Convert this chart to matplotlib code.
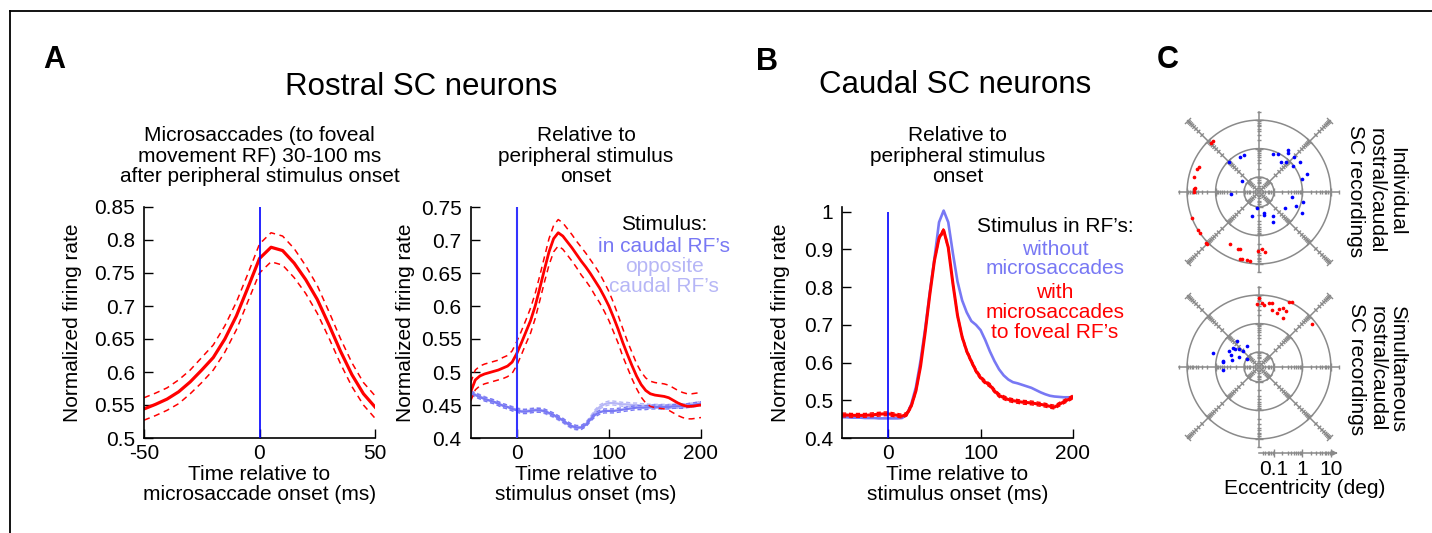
import numpy as np
import matplotlib
matplotlib.use("Agg")
import matplotlib.pyplot as plt
from matplotlib.lines import Line2D
from matplotlib.collections import LineCollection
from matplotlib.ticker import FuncFormatter

plt.rcParams['font.family'] = ['Liberation Sans', 'DejaVu Sans']
plt.rcParams['axes.unicode_minus'] = False

# ---------------- data ----------------
# A (left): aligned on microsaccade onset
t_sacc = np.arange(-50, 51, 5)
sacc_mean = [0.544, 0.551, 0.559, 0.570, 0.585, 0.603, 0.622, 0.650, 0.685, 0.728, 0.772,
             0.789, 0.784, 0.765, 0.740, 0.710, 0.672, 0.632, 0.596, 0.567, 0.547]
sacc_upper = [0.561, 0.568, 0.576, 0.588, 0.603, 0.622, 0.641, 0.670, 0.706, 0.749, 0.794,
              0.811, 0.806, 0.787, 0.761, 0.731, 0.692, 0.651, 0.614, 0.584, 0.564]
sacc_lower = [0.527, 0.534, 0.542, 0.552, 0.567, 0.584, 0.603, 0.630, 0.664, 0.707, 0.750,
              0.767, 0.762, 0.743, 0.719, 0.689, 0.652, 0.613, 0.578, 0.550, 0.530]

# A (right) and B: aligned on stimulus onset
t_stim = np.arange(-50, 201, 5)
rostral_fov = [0.470, 0.488, 0.494, 0.497, 0.499, 0.501, 0.503, 0.506, 0.509, 0.515,
               0.528, 0.544, 0.561, 0.578, 0.600, 0.627, 0.655, 0.682, 0.702, 0.711,
               0.706, 0.697, 0.688, 0.678, 0.668, 0.659, 0.649, 0.638, 0.627, 0.614,
               0.600, 0.583, 0.565, 0.545, 0.527, 0.510, 0.494, 0.481, 0.472, 0.467,
               0.465, 0.464, 0.463, 0.461, 0.457, 0.453, 0.450, 0.448, 0.448, 0.449, 0.450]
rostral_fov_sem = [0.014, 0.015, 0.015, 0.015, 0.015, 0.015, 0.015, 0.016, 0.016, 0.017,
                   0.018, 0.018, 0.018, 0.019, 0.019, 0.019, 0.019, 0.020, 0.020, 0.020,
                   0.020, 0.020, 0.020, 0.020, 0.021, 0.021, 0.021, 0.022, 0.022, 0.022,
                   0.022, 0.022, 0.021, 0.021, 0.020, 0.020, 0.019, 0.019, 0.019, 0.019,
                   0.019, 0.019, 0.019, 0.019, 0.019, 0.019, 0.019, 0.019, 0.019, 0.019, 0.019]
rostral_in_rf = [0.468, 0.465, 0.462, 0.459, 0.457, 0.455, 0.452, 0.449, 0.447, 0.444,
                 0.442, 0.440, 0.440, 0.441, 0.442, 0.442, 0.441, 0.438, 0.435, 0.431,
                 0.427, 0.422, 0.418, 0.416, 0.416, 0.420, 0.428, 0.435, 0.439, 0.441,
                 0.441, 0.441, 0.442, 0.443, 0.444, 0.445, 0.446, 0.446, 0.446, 0.447,
                 0.447, 0.447, 0.447, 0.447, 0.448, 0.448, 0.448, 0.449, 0.450, 0.451, 0.452]
rostral_opp_rf = [0.469, 0.466, 0.463, 0.460, 0.457, 0.455, 0.452, 0.449, 0.447, 0.445,
                  0.443, 0.441, 0.441, 0.442, 0.443, 0.442, 0.440, 0.437, 0.434, 0.430,
                  0.426, 0.421, 0.417, 0.415, 0.416, 0.421, 0.430, 0.440, 0.447, 0.451,
                  0.453, 0.453, 0.452, 0.451, 0.451, 0.450, 0.450, 0.449, 0.449, 0.448,
                  0.448, 0.448, 0.448, 0.448, 0.448, 0.448, 0.449, 0.449, 0.450, 0.451, 0.453]
rostral_rf_sem = 0.003

caudal_no_ms = [0.455, 0.455, 0.454, 0.454, 0.454, 0.453, 0.453, 0.453, 0.452, 0.452,
                0.452, 0.452, 0.452, 0.453, 0.462, 0.490, 0.535, 0.605, 0.690, 0.786,
                0.875, 0.972, 1.003, 0.972, 0.890, 0.815, 0.765, 0.733, 0.710, 0.700,
                0.686, 0.660, 0.630, 0.604, 0.582, 0.566, 0.555, 0.548, 0.545, 0.541,
                0.537, 0.533, 0.527, 0.521, 0.516, 0.512, 0.510, 0.509, 0.508, 0.508, 0.508]
caudal_ms = [0.461, 0.461, 0.460, 0.460, 0.460, 0.460, 0.461, 0.462, 0.463, 0.464,
             0.464, 0.462, 0.460, 0.458, 0.463, 0.485, 0.525, 0.590, 0.680, 0.780,
             0.870, 0.930, 0.951, 0.905, 0.810, 0.725, 0.668, 0.630, 0.603, 0.578,
             0.560, 0.548, 0.540, 0.525, 0.513, 0.507, 0.502, 0.499, 0.497, 0.495,
             0.494, 0.493, 0.491, 0.489, 0.487, 0.484, 0.482, 0.489, 0.496, 0.502, 0.509]
caudal_ms_sem = 0.005

# C: recording sites (direction in deg, eccentricity in deg)
ind_rostral_dir = [135, 119, 112, 148, 185, 70, 63, 55, 53, 45, 54, 48, 37, 36, 21, 17,
                   352, 347, 339, 329, 334, 262, 254, 284, 283, 300, 294]
ind_rostral_ecc = [0.94, 0.77, 0.73, 0.155, 0.30, 0.77, 0.94, 1.85, 1.49, 1.55, 0.61, 0.77,
                   0.96, 1.86, 1.85, 1.16, 0.46, 1.12, 0.71, 0.35, 1.40, 0.107, 0.22, 0.17,
                   0.21, 0.27, 0.44]
ind_caudal_dir = [134, 132, 157, 160, 167, 176, 177, 180, 201, 212, 215, 224, 225, 241,
                  250, 252, 254, 256, 260, 263, 269, 273, 276]
ind_caudal_ecc = [7.7, 7.4, 5.7, 6.4, 6.4, 5.4, 5.7, 5.6, 9.5, 9.6, 9.9, 11.5, 11.4, 3.7,
                  3.9, 3.8, 8.3, 7.9, 8.1, 8.4, 3.6, 3.0, 4.0]
sim_rostral_dir = [130, 143, 137, 120, 136, 152, 157, 163, 153, 147, 166, 170, 172, 184, 144]
sim_rostral_ecc = [0.46, 0.34, 0.26, 0.22, 0.19, 0.46, 0.36, 1.50, 0.18, 0.093, 0.29,
                   0.59, 0.58, 0.57, 0.41]
sim_caudal_dir = [90, 92, 87, 85, 81, 79, 77, 72, 71, 68, 64, 64, 65, 63, 39]
sim_caudal_ecc = [7.9, 5.0, 5.3, 4.7, 5.6, 6.0, 3.3, 2.95, 4.4, 5.2, 4.7, 2.55, 10.1, 10.4, 7.7]

ring_ecc = [0.1, 1, 10]
scale_ecc = ['0.1', '1', '10']

# ---------------- figure ----------------
W, H = 1432, 533
fig = plt.figure(figsize=(W / 100, H / 100), dpi=100)

RED = '#ff0000'
BLUE = '#7878f4'
LAV = '#b6b6f6'
ONSET = '#0000ff'
GRAY = '#8a8a8a'
FS = 15


def px_axes(x0, y0, x1, y1):
    return fig.add_axes([x0 / W, 1 - y1 / H, (x1 - x0) / W, (y1 - y0) / H])


def ftext(x, y, s, **kw):
    kw.setdefault('fontsize', FS)
    kw.setdefault('ha', 'center')
    kw.setdefault('va', 'center')
    kw.setdefault('linespacing', 1.08)
    fig.text(x / W, 1 - y / H, s, **kw)


def style(ax, xlim, ylim, xticks, yticks, ylab_x):
    for s in ['top', 'right']:
        ax.spines[s].set_visible(False)
    for s in ['left', 'bottom']:
        ax.spines[s].set_linewidth(1.2)
    ax.set_xlim(*xlim)
    ax.set_ylim(*ylim)
    ax.set_xticks(xticks)
    ax.set_yticks(yticks)
    ax.yaxis.set_major_formatter(FuncFormatter(lambda v, _: f'{v:g}'))
    ax.tick_params(direction='in', length=6.5, width=1, labelsize=FS)
    ax.tick_params(axis='y', pad=6.5)
    ax.tick_params(axis='x', pad=4.3)
    ax.set_ylabel('Normalized firing rate', fontsize=FS)
    ax.yaxis.set_label_coords(ylab_x, 0.5)
    ax.patch.set_visible(False)


# frame
fig.add_artist(Line2D([10 / W, 10 / W], [0, 1 - 11 / H], color='k', lw=1.3))
fig.add_artist(Line2D([10 / W, 1], [1 - 11 / H, 1 - 11 / H], color='k', lw=1.3))

# panel letters and headings
ftext(54, 60, 'A', fontsize=22, fontweight='bold')
ftext(767, 62, 'B', fontsize=22, fontweight='bold')
ftext(1168, 60, 'C', fontsize=22, fontweight='bold')
ftext(421, 87, 'Rostral SC neurons', fontsize=22.5)
ftext(955, 85, 'Caudal SC neurons', fontsize=22.5)
ftext(259.5, 156, 'Microsaccades (to foveal\nmovement RF) 30-100 ms\nafter peripheral stimulus onset')
ftext(586, 156, 'Relative to\nperipheral stimulus\nonset')
ftext(957.5, 156, 'Relative to\nperipheral stimulus\nonset')

# ---- A left ----
ax1 = px_axes(144, 207, 375, 438)
ax1.plot(t_sacc, sacc_upper, color=RED, lw=1.1, ls=(0, (4, 3)))
ax1.plot(t_sacc, sacc_lower, color=RED, lw=1.1, ls=(0, (4, 3)))
ax1.plot(t_sacc, sacc_mean, color=RED, lw=2.3)
ax1.axvline(0, color=ONSET, lw=1.2, zorder=5)
style(ax1, (-50, 50), (0.5, 0.85), [-50, 0, 50], np.arange(0.5, 0.851, 0.05), -0.27)
ax1.set_xlabel('Time relative to\nmicrosaccade onset (ms)', fontsize=FS, linespacing=1.08)
ax1.xaxis.set_label_coords(0.5, -0.115)

# ---- A right ----
ax2 = px_axes(470.7, 207, 701, 438)
for series, col in [(rostral_opp_rf, LAV), (rostral_in_rf, BLUE)]:
    s = np.array(series)
    ax2.plot(t_stim, s + rostral_rf_sem, color=col, lw=1.0, ls=(0, (3, 2)))
    ax2.plot(t_stim, s - rostral_rf_sem, color=col, lw=1.0, ls=(0, (3, 2)))
    ax2.plot(t_stim, s, color=col, lw=1.6)
r = np.array(rostral_fov)
rs = np.array(rostral_fov_sem)
ax2.plot(t_stim, r + rs, color=RED, lw=1.1, ls=(0, (4, 3)))
ax2.plot(t_stim, r - rs, color=RED, lw=1.1, ls=(0, (4, 3)))
ax2.plot(t_stim, r, color=RED, lw=2.0)
ax2.axvline(0, color='#3333ff', lw=1.5, zorder=5)
style(ax2, (-50, 200), (0.4, 0.75), [0, 100, 200], np.arange(0.4, 0.751, 0.05), -0.242)
ax2.set_xlabel('Time relative to\nstimulus onset (ms)', fontsize=FS, linespacing=1.08)
ax2.xaxis.set_label_coords(0.5, -0.115)
ftext(664, 224, 'Stimulus:')
ftext(664, 246, 'in caudal RF\u2019s', color=BLUE)
ftext(664, 267, 'opposite', color=LAV)
ftext(664, 287, 'caudal RF\u2019s', color=LAV)

# ---- B ----
ax3 = px_axes(842, 207, 1073, 438)
ax3.plot(t_stim, caudal_no_ms, color=BLUE, lw=1.9)
c = np.array(caudal_ms)
ax3.plot(t_stim, c + caudal_ms_sem, color=RED, lw=1.0, ls=(0, (3, 2)))
ax3.plot(t_stim, c - caudal_ms_sem, color=RED, lw=1.0, ls=(0, (3, 2)))
ax3.plot(t_stim, c, color=RED, lw=2.2)
ax3.vlines(0, 0.4, 1.0, color=ONSET, lw=1.2, zorder=5)
style(ax3, (-50, 200), (0.4, 1.0125), [0, 100, 200], np.arange(0.4, 1.01, 0.1), -0.225)
ax3.set_xlabel('Time relative to\nstimulus onset (ms)', fontsize=FS, linespacing=1.08)
ax3.xaxis.set_label_coords(0.5, -0.115)
ftext(1055, 227, 'Stimulus in RF\u2019s:')
ftext(1055, 249, 'without', color=BLUE)
ftext(1055, 269, 'microsaccades', color=BLUE)
ftext(1055, 292, 'with', color=RED)
ftext(1055, 313, 'microsaccades', color=RED)
ftext(1055, 333, 'to foveal RF\u2019s', color=RED)

# ---- C ----
ECC0 = 0.03  # eccentricity at the centre of the log-polar plots


def rho(e):
    return np.log10(np.asarray(e, dtype=float) / ECC0)


def log_ticks(rmax):
    vals = []
    for dec in [0.01, 0.1, 1, 10, 100]:
        for k in range(1, 10):
            e = k * dec
            if e > ECC0 and rho(e) <= rmax + 0.03:
                vals.append((e, k == 1))
    return vals


def polar_panel(ax, dir_b, ecc_b, dir_r, ecc_r):
    L = 3.684
    ax.set_xlim(-L, L)
    ax.set_ylim(-L, L)
    ax.set_aspect('equal')
    ax.axis('off')
    th = np.linspace(0, 2 * np.pi, 300)
    for e in ring_ecc:
        ax.plot(rho(e) * np.cos(th), rho(e) * np.sin(th), color=GRAY, lw=1.1)
    segs = []
    for a in range(0, 360, 45):
        rmax = 2.81 if a % 90 == 0 else 3.54
        ca, sa = np.cos(np.radians(a)), np.sin(np.radians(a))
        ax.plot([0, rmax * ca], [0, rmax * sa], color=GRAY, lw=1.1)
        for e, major in log_ticks(rmax):
            rr = rho(e)
            h = 0.15 if major else 0.085
            segs.append([(rr * ca - h * sa, rr * sa + h * ca), (rr * ca + h * sa, rr * sa - h * ca)])
    ax.add_collection(LineCollection(segs, colors=GRAY, linewidths=1.0))
    for d, e, col in [(dir_b, ecc_b, '#0000ff'), (dir_r, ecc_r, RED)]:
        rr = rho(e)
        ang = np.radians(d)
        ax.scatter(rr * np.cos(ang), rr * np.sin(ang), s=7, color=col, lw=0, zorder=4)


axc1 = px_axes(1154, 87, 1364, 297)
polar_panel(axc1, ind_rostral_dir, ind_rostral_ecc, ind_caudal_dir, ind_caudal_ecc)
axc2 = px_axes(1154, 262, 1364, 472)
polar_panel(axc2, sim_rostral_dir, sim_rostral_ecc, sim_caudal_dir, sim_caudal_ecc)

# eccentricity scale bar under the lower plot
yb = -3.02
axc2.plot([0, 2.7], [yb, yb], color=GRAY, lw=1.1, clip_on=False)
axc2.annotate('', xy=(2.86, yb), xytext=(2.6, yb),
              arrowprops=dict(arrowstyle='-|>', color=GRAY, lw=1.0, mutation_scale=7),
              annotation_clip=False)
bar_segs = []
for e, major in log_ticks(2.75):
    h = 0.15 if major else 0.085
    bar_segs.append([(rho(e), yb - h), (rho(e), yb + h)])
axc2.add_collection(LineCollection(bar_segs, colors=GRAY, linewidths=1.0, clip_on=False))
for lab in scale_ecc:
    axc2.text(rho(float(lab)), -3.6, lab, fontsize=FS, ha='center', va='center', clip_on=False)
ftext(1304.5, 488, 'Eccentricity (deg)')

ftext(1376, 191, 'Individual\nrostral/caudal\nSC recordings', rotation=-90)
ftext(1377, 369, 'Simultaneous\nrostral/caudal\nSC recordings', rotation=-90)

fig.savefig('out.png', dpi=100)
